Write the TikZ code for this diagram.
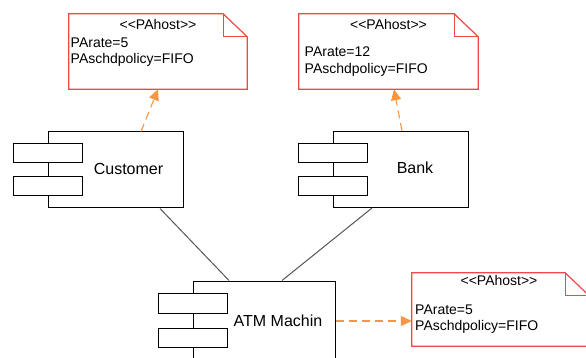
\documentclass[tikz,border=0pt]{standalone}
\usepackage{fontspec}
\setmainfont{Liberation Sans}
\usetikzlibrary{arrows.meta}
\definecolor{notered}{RGB}{240,72,72}
\definecolor{dashorange}{RGB}{245,150,70}
\definecolor{wiregray}{RGB}{85,85,85}
\tikzset{
    comp/.style={rectangle, draw, line width=1pt, minimum width=135pt, minimum height=76pt, inner sep=0pt},
    port/.style={rectangle, draw, fill=white, line width=1pt, minimum width=69pt, minimum height=19pt, inner sep=0pt},
    compname/.style={font=\fontsize{16}{18}\selectfont, inner sep=0pt, anchor=base},
    hostnote/.style={rectangle, fill=white, minimum width=178pt, minimum height=75pt, inner sep=0pt},
    stereo/.style={font=\fontsize{14}{16}\selectfont, inner sep=0pt, anchor=base},
    notetext/.style={font=\fontsize{14}{16}\selectfont, inner sep=0pt, anchor=base west},
    realize/.style={dashorange, line width=1.1pt, dash pattern=on 8pt off 5pt, -{Triangle[length=11pt,width=10pt]}},
    assoc/.style={wiregray, line width=1pt}
}

\begin{document}
\begin{tikzpicture}[x=1pt, y=-1pt]
    \useasboundingbox (0,0) rectangle (586,358);

    % components
    \node (cust) [comp] at (115.5, 170) {};
    \node (bank) [comp] at (400.5, 169.5) {};
    \node (atm) [comp, minimum width=142pt, minimum height=80pt] at (264, 321) {};

    \node (cp1) [port] at (48, 153) {};
    \node (cp2) [port] at (48, 186.5) {};
    \node (bp1) [port] at (333, 153) {};
    \node (bp2) [port] at (333, 186.5) {};
    \node (ap1) [port, minimum height=20pt] at (193, 303) {};
    \node (ap2) [port] at (193, 337.5) {};

    \node (custname) [compname] at (128.5, 175) {Customer};
    \node (bankname) [compname] at (415, 174) {Bank};
    \node (atmname) [compname] at (278, 326) {ATM Machin};

    % PAhost notes
    \node (h1) [hostnote] at (158, 51.5) {};
    \node (h2) [hostnote, minimum width=179pt] at (388.5, 51.5) {};
    \node (h3) [hostnote, minimum width=177pt, minimum height=73pt] at (500.5, 309.5) {};
    \foreach \n in {h1,h2,h3} {
        \draw [notered, line width=1.2pt, line join=miter]
            (\n.north west) -- ([xshift=-24pt]\n.north east) -- ([yshift=-23pt]\n.north east)
            -- (\n.south east) -- (\n.south west) -- cycle;
        \draw [notered, line width=1.2pt]
            ([xshift=-24pt]\n.north east) |- ([yshift=-23pt]\n.north east);
    }

    \node (h1s) [stereo] at (158, 29.5) {<{}<PAhost>{}>};
    \node (h1a) [notetext] at (70.5, 47.5) {PArate=5};
    \node (h1b) [notetext] at (70.5, 63.5) {PAschdpolicy=FIFO};

    \node (h2s) [stereo] at (388.5, 29.5) {<{}<PAhost>{}>};
    \node (h2a) [notetext] at (304.5, 56.5) {PArate=12};
    \node (h2b) [notetext] at (304.5, 74) {PAschdpolicy=FIFO};

    \node (h3s) [stereo] at (499, 285) {<{}<PAhost>{}>};
    \node (h3a) [notetext] at (415, 314) {PArate=5};
    \node (h3b) [notetext] at (415, 330) {PAschdpolicy=FIFO};

    % connectors
    \draw [assoc] ([xshift=44.5pt]cust.south) -- ([xshift=-35pt]atm.north);
    \draw [assoc] ([xshift=-28.5pt]bank.south) -- ([xshift=18pt]atm.north);

    \draw [realize] ([xshift=25.5pt]cust.north) -- (h1.south);
    \draw [realize] ([xshift=1.5pt]bank.north) -- ([xshift=5.5pt]h2.south);
    \draw [realize] (atm.east) -- ([yshift=-11.5pt]h3.west);
\end{tikzpicture}
\end{document}
